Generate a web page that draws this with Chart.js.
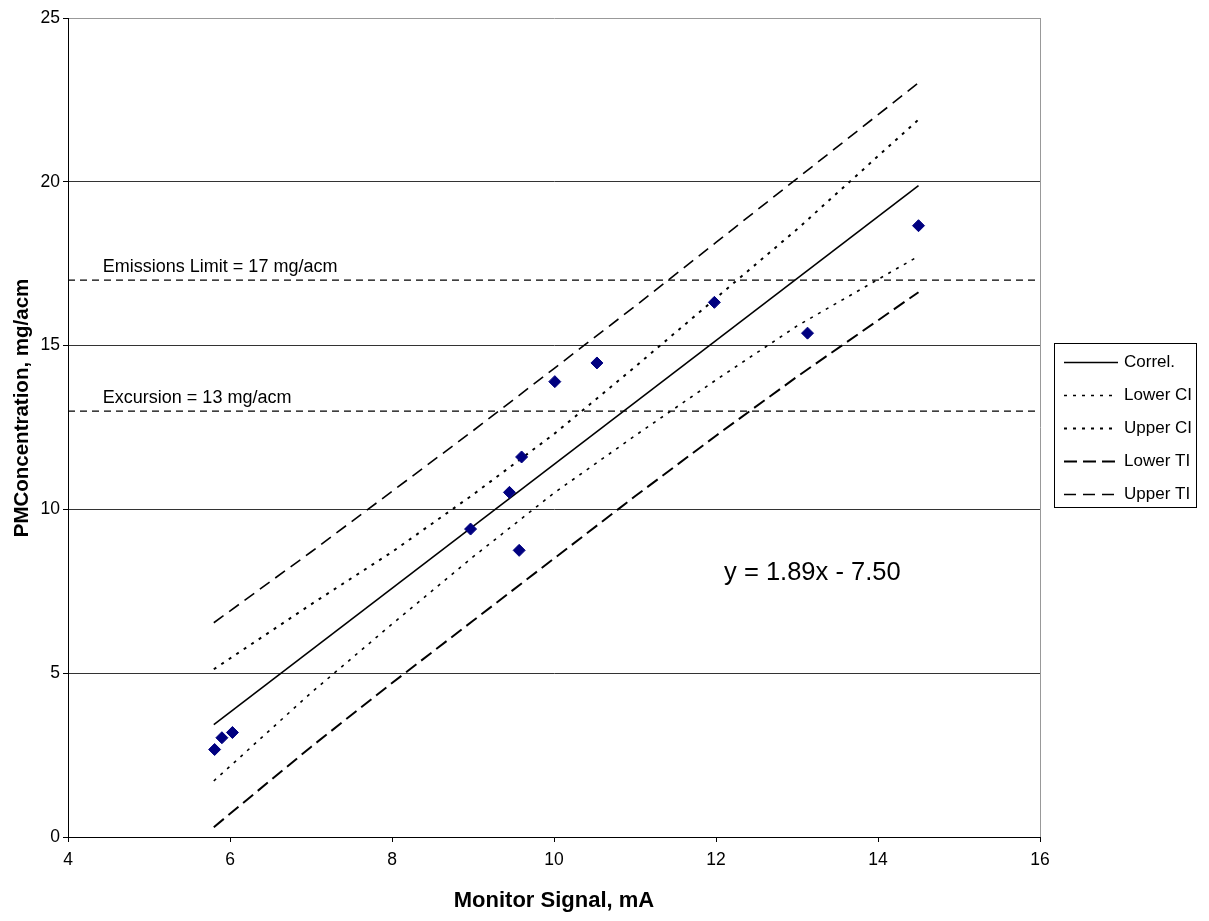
<!DOCTYPE html>
<html><head><meta charset="utf-8">
<script src="https://cdn.jsdelivr.net/npm/chart.js@4.4.1/dist/chart.umd.min.js"></script>
<style>html,body{margin:0;padding:0;background:#fff}</style>
</head><body>
<canvas id="c" width="1209" height="921"></canvas>
<script>
// ---- data ----
const signalX = [5.81, 5.90, 6.03, 8.97, 9.45, 9.60, 9.57, 10.01, 10.53, 11.98, 13.13, 14.50];
const concY   = [2.67, 3.03, 3.19, 9.40, 10.52, 11.60, 8.75, 13.90, 14.47, 16.32, 15.38, 18.66];
const correlX = [5.8, 14.5];
const correlY = [3.43, 19.88];
const bandX   = [5.8, 7, 8, 9, 10, 11, 12, 13, 14.5];
const upperCI = [5.12, 7.10, 8.70, 10.45, 12.30, 14.35, 16.45, 18.55, 21.90];
const lowerCI = [1.71, 4.40, 6.50, 8.55, 10.50, 12.25, 13.95, 15.60, 17.73];
const upperTI = [6.54, 8.70, 10.55, 12.40, 14.30, 16.20, 18.15, 20.10, 23.02];
const lowerTI = [0.30, 2.75, 4.70, 6.60, 8.50, 10.40, 12.25, 14.05, 16.63];
const limitValues = [17, 13];
const limitLabels = ['Emissions Limit = 17 mg/acm', 'Excursion = 13 mg/acm'];
const equationText = 'y = 1.89x - 7.50';
const xRange = [4, 16];
const yRange = [0, 25];
const xTitle = 'Monitor Signal, mA';
const yTitle = 'PMConcentration, mg/acm';

const FONT = '"Liberation Sans", Arial, sans-serif';
const pts = (xs, ys) => xs.map((x, i) => ({x, y: ys[i]}));

const lineDs = (label, ys, xs, style) => Object.assign({
  label, data: pts(xs, ys), showLine: true, pointRadius: 0, fill: false,
  borderColor: '#000', backgroundColor: '#000', borderWidth: 1.5, order: 1, inLegend: true, tension: 0
}, style);

const datasets = [
  {label: 'Data', data: pts(signalX, concY), showLine: false, pointStyle: 'rectRot',
   pointRadius: 6, pointBorderWidth: 1, backgroundColor: '#000080', borderColor: '#000080', order: 0},
  lineDs('Correl.', correlY, correlX, {borderWidth: 1.6}),
  lineDs('Lower CI', lowerCI, bandX, {borderWidth: 1.6, borderDash: [3, 6]}),
  lineDs('Upper CI', upperCI, bandX, {borderWidth: 2, borderDash: [3, 6]}),
  lineDs('Lower TI', lowerTI, bandX, {borderWidth: 2, borderDash: [13, 6]}),
  lineDs('Upper TI', upperTI, bandX, {borderWidth: 1.6, borderDash: [12, 7]}),
];
limitValues.forEach((v, i) => datasets.push({
  label: limitLabels[i], data: [{x: xRange[0], y: v}, {x: xRange[1], y: v}], showLine: true,
  pointRadius: 0, borderColor: '#000', borderWidth: 1.3, borderDash: [7, 5], order: 2, limitLabel: limitLabels[i]
}));

const decor = {
  id: 'decor',
  beforeDatasetsDraw(chart) {
    const {ctx, chartArea: a} = chart;
    ctx.save();
    ctx.strokeStyle = '#999'; ctx.lineWidth = 1;
    ctx.beginPath();
    ctx.moveTo(Math.round(a.right) + 0.5, a.top);
    ctx.lineTo(Math.round(a.right) + 0.5, a.bottom);
    ctx.stroke();
    ctx.restore();
  },
  afterDraw(chart) {
    const {ctx, scales: {x, y}} = chart;
    ctx.save();
    ctx.fillStyle = '#000';
    // limit labels
    ctx.font = '18px ' + FONT;
    ctx.textAlign = 'left'; ctx.textBaseline = 'alphabetic';
    chart.data.datasets.filter(d => d.limitLabel).forEach(d => {
      ctx.fillText(d.limitLabel, x.getPixelForValue(4.43), y.getPixelForValue(d.data[0].y) - 8);
    });
    // equation
    ctx.font = '25.5px ' + FONT;
    ctx.textBaseline = 'middle';
    ctx.fillText(equationText, x.getPixelForValue(12.1), y.getPixelForValue(8.05));
    // y title
    ctx.save();
    ctx.font = 'bold 20.5px ' + FONT;
    ctx.translate(28, 408);
    ctx.rotate(-Math.PI / 2);
    ctx.textAlign = 'center'; ctx.textBaseline = 'alphabetic';
    ctx.fillText(yTitle, 0, 0);
    ctx.restore();
    // legend
    const items = chart.data.datasets.filter(d => d.inLegend);
    const bx = 1054, by = 343, bw = 142, bh = 164;
    ctx.strokeStyle = '#000'; ctx.lineWidth = 1; ctx.setLineDash([]);
    ctx.strokeRect(bx + 0.5, by + 0.5, bw, bh);
    ctx.font = '17px ' + FONT;
    ctx.textAlign = 'left'; ctx.textBaseline = 'middle';
    items.forEach((d, i) => {
      const ly = by + 19 + i * 33 + 0.5;
      ctx.beginPath();
      ctx.setLineDash(d.borderDash || []);
      ctx.lineWidth = d.borderWidth; ctx.strokeStyle = d.borderColor;
      ctx.moveTo(bx + 10, ly); ctx.lineTo(bx + 64, ly); ctx.stroke();
      ctx.setLineDash([]);
      ctx.fillText(d.label, bx + 70, ly);
    });
    ctx.restore();
  }
};

new Chart(document.getElementById('c'), {
  type: 'scatter',
  data: {datasets},
  options: {
    responsive: false, animation: false, devicePixelRatio: 1,
    layout: {padding: {top: 18, right: 169, left: 0, bottom: 0}},
    plugins: {legend: {display: false}, tooltip: {enabled: false}},
    scales: {
      x: {
        type: 'linear', min: xRange[0], max: xRange[1],
        ticks: {stepSize: 2, color: '#000', font: {family: FONT, size: 17.5}, padding: 8},
        grid: {drawOnChartArea: false, drawTicks: true, tickLength: 5, color: '#000'},
        border: {color: '#000', width: 1},
        title: {display: true, text: xTitle, color: '#000', font: {family: FONT, size: 22, weight: 'bold'}, padding: {top: 0, bottom: 7}},
        afterFit: s => { s.height = 84; }
      },
      y: {
        type: 'linear', min: yRange[0], max: yRange[1],
        ticks: {stepSize: 5, color: '#000', font: {family: FONT, size: 17.5}, padding: 3},
        grid: {color: c => (c.tick && c.tick.value === 25) ? '#999' : '#333', tickColor: '#000', tickLength: 5, lineWidth: 1},
        border: {color: '#000', width: 1},
        afterFit: s => { s.width = 68; }
      }
    }
  },
  plugins: [decor]
});
</script>
</body></html>
